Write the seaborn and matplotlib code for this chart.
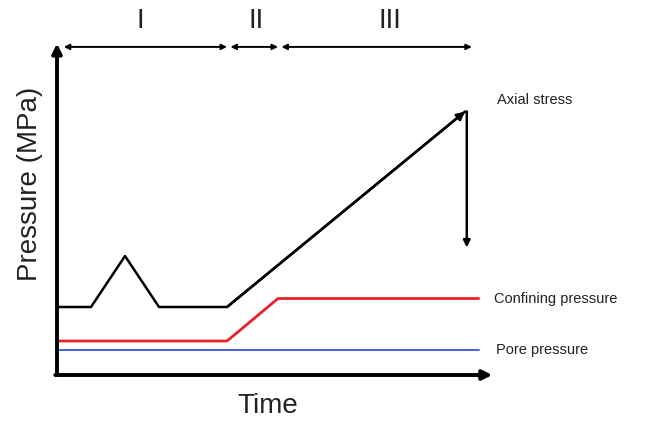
import numpy as np
import pandas as pd
import seaborn as sns
import matplotlib.pyplot as plt

# schematic loading path (arbitrary units)
axial_t = [0, 1, 2, 3, 5, 12]
axial_p = [8, 8, 14, 8, 8, 31]
confining_t = [0, 5, 6.5, 12.4]
confining_p = [4, 4, 9, 9]
pore_t = [0, 12.4]
pore_p = [3, 3]
unload_top = 31
unload_bottom = 15

phases = ["I", "II", "III"]
phase_start = [0.2, 5.1, 6.6]
phase_end = [5.0, 6.5, 12.2]
phase_label_x = [2.45, 5.85, 9.8]

sns.set_style("white")
plt.rcParams['font.family'] = ['Liberation Sans', 'DejaVu Sans']

fig = plt.figure(figsize=(6.63, 4.23), dpi=100)
ax = fig.add_axes([0, 0, 1, 1])
ax.set_xlim(-1.676, 17.82)
ax.set_ylim(-5.647, 44.12)
ax.axis("off")

sns.lineplot(x=axial_t, y=axial_p, color="black", lw=1.8, ax=ax, sort=False)
sns.lineplot(x=confining_t, y=confining_p, color="#e8202a", lw=2.0, ax=ax, sort=False)
sns.lineplot(x=pore_t, y=pore_p, color="#4a5fd8", lw=1.4, ax=ax, sort=False)

# arrow head at top of axial loading and the unloading arrow
ax.annotate("", xy=(axial_t[-1], axial_p[-1]), xytext=(axial_t[-2], axial_p[-2]),
            arrowprops=dict(arrowstyle="-|>", color="black", lw=1.8, mutation_scale=12,
                            shrinkA=0, shrinkB=0))
ax.annotate("", xy=(12.05, unload_bottom), xytext=(12.05, unload_top),
            arrowprops=dict(arrowstyle="-|>", color="black", lw=1.8, mutation_scale=10, shrinkA=0, shrinkB=0))

# axes
ax.annotate("", xy=(0, 39.0), xytext=(0, 0),
            arrowprops=dict(arrowstyle="-|>", color="black", lw=2.8, mutation_scale=14, shrinkA=0, shrinkB=0))
ax.annotate("", xy=(12.8, 0), xytext=(-0.05, 0),
            arrowprops=dict(arrowstyle="-|>", color="black", lw=2.8, mutation_scale=14, shrinkA=0, shrinkB=0))

# phase arrows
for name, s, e, lx in zip(phases, phase_start, phase_end, phase_label_x):
    ax.annotate("", xy=(e, 38.6), xytext=(s, 38.6),
                arrowprops=dict(arrowstyle="<|-|>", color="black", lw=1.4, mutation_scale=8, shrinkA=0, shrinkB=0))
    ax.text(lx, 41.6, name, ha="center", va="center", fontsize=20, color="#222222")

ax.text(12.95, 32.3, "Axial stress", fontsize=10.5, va="center", color="#222222")
ax.text(12.85, 8.9, "Confining pressure", fontsize=10.5, va="center", color="#222222")
ax.text(12.9, 2.9, "Pore pressure", fontsize=10.5, va="center", color="#222222")
ax.text(6.2, -3.6, "Time", fontsize=20, ha="center", va="center", color="#222222")
ax.text(-0.8, 22.5, "Pressure (MPa)", fontsize=20, rotation=90, ha="center", va="center", color="#222222")

fig.savefig("out.png", dpi=100)
